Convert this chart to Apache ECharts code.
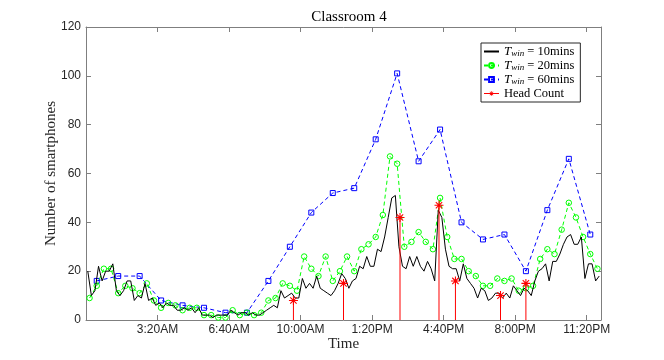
<!DOCTYPE html>
<html>
<head>
<meta charset="utf-8">
<title>Classroom 4</title>
<script src="https://cdn.jsdelivr.net/npm/echarts@6/dist/echarts.min.js"></script>
<style>
  html, body { margin: 0; padding: 0; background: #fff; }
  #chart { width: 664px; height: 360px; }
</style>
</head>
<body>
<div id="chart"></div>
<script>
// x values are minutes since midnight
const tickMinutes = [200, 400, 600, 800, 1000, 1200, 1400];
const tickLabels = ['3:20AM', '6:40AM', '10:00AM', '1:20PM', '4:40PM', '8:00PM', '11:20PM'];

// T_win = 10 mins, one value per 10-minute window
const win10 = [
  20, 10, 12, 22, 16, 20, 20, 23, 12, 10, 12, 16,
  16, 8, 10, 9, 15, 8, 9, 6, 7, 5, 7, 6,
  6, 4, 4, 5, 4, 5, 3, 5, 2, 2, 2, 1,
  2, 2, 2, 2, 4, 3, 2, 3, 3, 2, 3, 2,
  2, 3, 4, 5, 6, 5, 12, 9, 10, 11, 9, 9,
  17, 13, 15, 13, 18, 13, 12, 11, 10, 12, 15, 19,
  17, 13, 16, 17, 22, 21, 26, 22, 22, 29, 28, 34,
  42, 50, 51, 30, 22, 21, 26, 22, 26, 22, 20, 24,
  21, 16, 45, 42, 29, 22, 21, 21, 16, 23, 17, 15,
  13, 9, 13, 12, 8, 9, 11, 11, 9, 11, 9, 14,
  12, 10, 13, 12, 10, 16, 20, 21, 23, 16, 24, 24,
  27, 31, 34, 35, 31, 31, 34, 17, 23, 23, 16, 18
];

// T_win = 20 mins
const win20 = [
  9, 14, 21, 21, 11, 14, 13, 11, 15, 8, 5, 7,
  6, 4, 5, 5, 2, 2, 1, 1, 4, 2, 3, 2,
  3, 8, 9, 15, 14, 12, 26, 21, 18, 26, 16, 20,
  26, 20, 29, 31, 34, 43, 67, 64, 30, 32, 36, 32,
  29, 50, 34, 25, 25, 20, 18, 14, 14, 17, 16, 17,
  12, 13, 14, 25, 29, 27, 37, 48, 42, 34, 27, 21
];

// T_win = 60 mins
const win60 = [16, 18, 18, 8, 6, 5, 3, 3, 16, 30, 44, 52, 54, 74, 101, 65, 78, 40, 33, 35, 20, 45, 66, 35];

// head count observations
const headTimes = [580, 720, 878, 987, 1033, 1159, 1230];
const headCount = [8, 15, 42, 47, 16, 10, 15];

// each window's value is plotted at the window centre
function withTimes(values, width) {
  return values.map((v, i) => [width / 2 + width * i, v]);
}

const serif = '"Liberation Serif", "DejaVu Serif", serif';
const sans = '"Liberation Sans", Arial, sans-serif';
const axisColor = '#7f7f7f';
const labelColor = '#262626';

const asterisk = 'path://M0 8.8L20 8.8L20 11.2L0 11.2Z' +
  'M8.8 0L11.2 0L11.2 20L8.8 20Z' +
  'M3.78 2.08L17.92 16.22L16.22 17.92L2.08 3.78Z' +
  'M16.22 2.08L17.92 3.78L3.78 17.92L2.08 16.22Z';

const legendNames = {
  T10: '{t|T}{s|win}{n| = 10mins}',
  T20: '{t|T}{s|win}{n| = 20mins}',
  T60: '{t|T}{s|win}{n| = 60mins}',
  'Head Count': '{n|Head Count}'
};

function boxAxis(pos, isX, main) {
  const ax = {
    type: 'value',
    position: pos,
    min: 0,
    max: isX ? 1440 : 120,
    interval: isX ? 200 : 20,
    axisLine: { show: true, onZero: false, lineStyle: { color: axisColor, width: 1 } },
    axisTick: { show: true, inside: true, length: 5, lineStyle: { color: axisColor } },
    axisLabel: { show: false },
    splitLine: { show: false }
  };
  if (main) {
    ax.axisLabel = {
      show: true,
      color: labelColor,
      fontFamily: sans,
      fontSize: 12,
      margin: isX ? 4 : 5,
      showMinLabel: !isX,
      showMaxLabel: !isX,
      formatter: isX ? (v => {
        const i = tickMinutes.indexOf(v);
        return i >= 0 ? tickLabels[i] : '';
      }) : (v => String(v))
    };
  }
  return ax;
}

const xMain = boxAxis('bottom', true, true);
xMain.name = 'Time';
xMain.nameLocation = 'middle';
xMain.nameGap = 17;
xMain.nameMoveOverlap = false;
xMain.nameTextStyle = { fontFamily: serif, fontSize: 15, color: labelColor };

const yMain = boxAxis('left', false, true);
yMain.name = 'Number of smartphones';
yMain.nameLocation = 'middle';
yMain.nameGap = 27;
yMain.nameMoveOverlap = false;
yMain.nameTextStyle = { fontFamily: serif, fontSize: 15, color: labelColor };

const chart = echarts.init(document.getElementById('chart'), null, { renderer: 'canvas' });

chart.setOption({
  backgroundColor: '#ffffff',
  animation: false,
  title: {
    text: 'Classroom 4',
    left: 344,
    top: 5,
    textAlign: 'center',
    textStyle: { fontFamily: serif, fontSize: 15, fontWeight: 'normal', color: '#000' }
  },
  grid: { left: 86, right: 63, top: 27, bottom: 40, containLabel: false, outerBoundsMode: 'none' },
  xAxis: [xMain, boxAxis('top', true, false)],
  yAxis: [yMain, boxAxis('right', false, false)],
  legend: {
    orient: 'vertical',
    left: 481,
    top: 43,
    itemWidth: 15,
    itemHeight: 6,
    itemGap: 1,
    padding: [2, 6, 2, 2],
    borderColor: '#262626',
    borderWidth: 1,
    borderRadius: 0,
    backgroundColor: '#fff',
    data: [
      { name: 'T10', itemStyle: { opacity: 0 } },
      { name: 'T20' },
      { name: 'T60' },
      { name: 'Head Count', lineStyle: { color: '#ff0000', width: 1, opacity: 1, type: 'solid' } }
    ],
    formatter: name => legendNames[name],
    textStyle: {
      color: '#000',
      fontFamily: serif,
      fontSize: 12.5,
      lineHeight: 13,
      rich: {
        t: { fontFamily: serif, fontStyle: 'italic', fontSize: 13, lineHeight: 13, verticalAlign: 'middle' },
        s: { fontFamily: serif, fontStyle: 'italic', fontSize: 9, lineHeight: 8, verticalAlign: 'bottom' },
        n: { fontFamily: serif, fontSize: 12.5, lineHeight: 13, verticalAlign: 'middle' }
      }
    }
  },
  series: [
    {
      name: 'stem',
      type: 'bar',
      data: headTimes.map((t, i) => [t, headCount[i]]),
      barWidth: 1,
      itemStyle: { color: '#ff0000' },
      silent: true,
      z: 5
    },
    {
      name: 'T10',
      type: 'line',
      data: withTimes(win10, 10),
      symbol: 'none',
      lineStyle: { color: '#000000', width: 1 },
      itemStyle: { color: '#000000' },
      z: 4
    },
    {
      name: 'T20',
      type: 'line',
      data: withTimes(win20, 20),
      symbol: 'circle',
      symbolSize: 5.5,
      showAllSymbol: true,
      lineStyle: { color: '#00ff00', width: 1, type: [4, 3] },
      itemStyle: { color: 'rgba(255,255,255,0)', borderColor: '#00ff00', borderWidth: 1 },
      z: 3
    },
    {
      name: 'T60',
      type: 'line',
      data: withTimes(win60, 60),
      symbol: 'rect',
      symbolSize: 5,
      showAllSymbol: true,
      lineStyle: { color: '#0000ff', width: 1, type: [4, 3] },
      itemStyle: { color: 'rgba(255,255,255,0)', borderColor: '#0000ff', borderWidth: 1 },
      z: 2
    },
    {
      name: 'Head Count',
      type: 'line',
      data: headTimes.map((t, i) => [t, headCount[i]]),
      symbol: asterisk,
      symbolSize: 9,
      lineStyle: { opacity: 0 },
      itemStyle: { color: '#ff0000' },
      z: 6
    }
  ]
});
</script>
</body>
</html>
